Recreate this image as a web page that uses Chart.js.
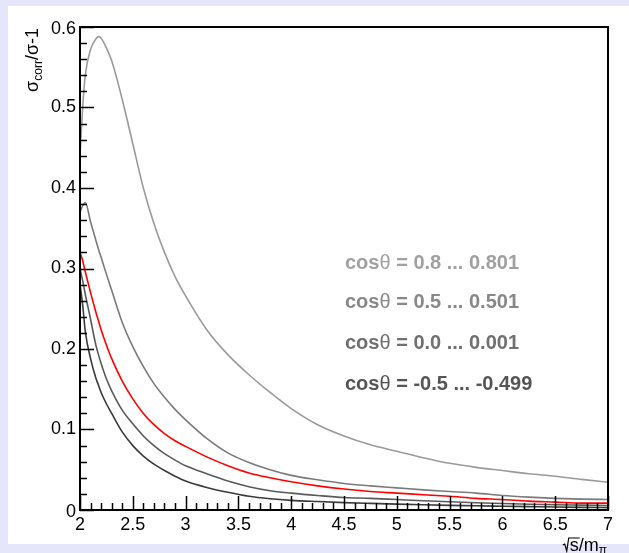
<!DOCTYPE html>
<html>
<head>
<meta charset="utf-8">
<script src="https://cdn.jsdelivr.net/npm/chart.js@4.4.1/dist/chart.umd.min.js"></script>
<style>
html,body{margin:0;padding:0;background:#e6e6fa;}
canvas{display:block;}
</style>
</head>
<body>
<canvas id="c" width="629" height="553"></canvas>
<script>
// sqrt(s)/m_pi sample positions
const xs = [2.0, 2.025, 2.05, 2.1, 2.15, 2.175, 2.2, 2.25, 2.3, 2.4, 2.5, 2.6, 2.7, 2.8, 2.9, 3.0, 3.2, 3.4, 3.6, 3.8, 4.0, 4.25, 4.5, 4.75, 5.0, 5.25, 5.5, 5.75, 6.0, 6.25, 6.5, 6.75, 7.0];
// sigma_corr/sigma - 1 for each curve
const cos08 = [0.44, 0.50, 0.54, 0.572, 0.585, 0.588, 0.586, 0.574, 0.558, 0.510, 0.455, 0.400, 0.356, 0.320, 0.290, 0.266, 0.224, 0.193, 0.168, 0.146, 0.126, 0.106, 0.092, 0.081, 0.073, 0.065, 0.058, 0.053, 0.049, 0.045, 0.042, 0.038, 0.0345];
const cos05 = [0.37, 0.378, 0.382, 0.358, 0.335, 0.324, 0.314, 0.293, 0.273, 0.233, 0.203, 0.178, 0.157, 0.140, 0.125, 0.112, 0.089, 0.071, 0.059, 0.050, 0.043, 0.0375, 0.033, 0.030, 0.0275, 0.025, 0.023, 0.021, 0.018, 0.016, 0.0145, 0.0135, 0.013];
const redCurve = [0.32, 0.31, 0.296, 0.270, 0.246, 0.235, 0.224, 0.205, 0.188, 0.160, 0.138, 0.120, 0.106, 0.095, 0.086, 0.079, 0.066, 0.055, 0.046, 0.040, 0.035, 0.030, 0.026, 0.023, 0.021, 0.019, 0.017, 0.0145, 0.013, 0.011, 0.0098, 0.0085, 0.0085];
const cos00 = [0.30, 0.285, 0.268, 0.237, 0.205, 0.193, 0.182, 0.163, 0.148, 0.124, 0.107, 0.092, 0.080, 0.070, 0.062, 0.055, 0.045, 0.036, 0.029, 0.024, 0.021, 0.018, 0.0155, 0.0145, 0.013, 0.0115, 0.0102, 0.009, 0.008, 0.0072, 0.0065, 0.006, 0.0055];
const cosm05 = [0.28, 0.255, 0.222, 0.188, 0.164, 0.155, 0.146, 0.132, 0.120, 0.097, 0.080, 0.067, 0.057, 0.049, 0.042, 0.036, 0.028, 0.022, 0.017, 0.014, 0.012, 0.0105, 0.0092, 0.0082, 0.0073, 0.0065, 0.0058, 0.0052, 0.0047, 0.0042, 0.0037, 0.0033, 0.003];

const legendLabels = ["0.8 ... 0.801", "0.5 ... 0.501", "0.0 ... 0.001", "-0.5 ... -0.499"];
const yTickLabels = ["0", "0.1", "0.2", "0.3", "0.4", "0.5", "0.6"];
const xTickLabels = ["2", "2.5", "3", "3.5", "4", "4.5", "5", "5.5", "6", "6.5", "7"];

function pts(arr){ return xs.map((x,i)=>({x:x, y:arr[i]})); }

const FONT = '"Liberation Sans", Arial, Helvetica, sans-serif';

const rootStyle = {
  id: 'rootStyle',
  beforeDraw(chart){
    const ctx = chart.ctx;
    ctx.save();
    ctx.fillStyle = '#e6e6fa';
    ctx.fillRect(0,0,chart.width,chart.height);
    ctx.fillStyle = '#ffffff';
    ctx.fillRect(8,6,chart.width-8,538);
    ctx.restore();
  },
  afterDraw(chart){
    const ctx = chart.ctx;
    const a = chart.chartArea;
    const xs_ = chart.scales.x, ys_ = chart.scales.y;
    ctx.save();
    ctx.strokeStyle = '#000';
    ctx.lineWidth = 2;
    ctx.strokeRect(a.left, a.top, a.right-a.left, a.bottom-a.top);
    ctx.lineWidth = 1.5;
    for (let i=0;i<=30;i++){
      const v = i*0.02;
      const y = Math.round(ys_.getPixelForValue(v))+0.5;
      const len = (i%5===0)?14:7;
      ctx.beginPath(); ctx.moveTo(a.left, y); ctx.lineTo(a.left+len, y); ctx.stroke();
    }
    for (let i=0;i<=50;i++){
      const v = 2 + i*0.1;
      const x = Math.round(xs_.getPixelForValue(v))+0.5;
      const len = (i%5===0)?14:7;
      ctx.beginPath(); ctx.moveTo(x, a.bottom); ctx.lineTo(x, a.bottom-len); ctx.stroke();
    }
    ctx.fillStyle = '#000';
    ctx.font = '18px ' + FONT;
    ctx.textAlign = 'right'; ctx.textBaseline = 'middle';
    yTickLabels.forEach((t,i)=>{
      const y = ys_.getPixelForValue(i*0.1);
      ctx.fillText(t, 76, (i===0 || i===6) ? y+2 : y);
    });
    ctx.textAlign = 'center'; ctx.textBaseline = 'top';
    xTickLabels.forEach((t,i)=>{
      const x = xs_.getPixelForValue(2 + i*0.5);
      ctx.fillText(t, x, 516);
    });
    // y title
    ctx.save();
    ctx.translate(39, 28);
    ctx.rotate(-Math.PI/2);
    ctx.textBaseline = 'alphabetic'; ctx.textAlign = 'left';
    const big = '18px ' + FONT, small = '12px ' + FONT;
    ctx.font = big; const w1 = ctx.measureText('σ').width;
    ctx.font = small; const w2 = ctx.measureText('corr').width;
    ctx.font = big; const w3 = ctx.measureText('/σ-1').width;
    let x0 = -(w1+w2+w3);
    ctx.font = big; ctx.fillText('σ', x0, -1);
    ctx.font = small; ctx.fillText('corr', x0+w1, 3);
    ctx.font = big; ctx.fillText('/σ-1', x0+w1+w2, -1);
    ctx.restore();
    // x title
    ctx.textBaseline = 'alphabetic'; ctx.textAlign = 'left';
    ctx.font = big; const ws = ctx.measureText('s').width; const wm = ctx.measureText('/m').width;
    ctx.font = small; const wp = ctx.measureText('π').width;
    const xr = 607; const xb = 551;
    let xs0 = xr - wp - wm - ws;
    ctx.font = big; ctx.fillText('s', xs0, xb); ctx.fillText('/m', xs0+ws, xb);
    ctx.font = small; ctx.fillText('π', xs0+ws+wm, xb+3);
    ctx.lineWidth = 1.2;
    ctx.beginPath();
    ctx.moveTo(xs0-7, xb-6); ctx.lineTo(xs0-5, xb-7); ctx.lineTo(xs0-3, xb); ctx.lineTo(xs0-1, xb-13); ctx.lineTo(xs0+ws+1, xb-13);
    ctx.stroke();
    // legend text
    const cols = ['#a0a0a0', '#888888', '#707070', '#555555'];
    const ly = [263, 302.5, 343.5, 384];
    legendLabels.forEach((t,i)=>{
      ctx.fillStyle = cols[i];
      ctx.textBaseline = 'middle';
      let x = 345;
      ctx.font = 'bold 20px ' + FONT; ctx.fillText('cos', x, ly[i]); x += ctx.measureText('cos').width;
      ctx.font = '20px ' + FONT; ctx.fillText('θ', x, ly[i]); x += ctx.measureText('θ').width;
      ctx.font = 'bold 20px ' + FONT; ctx.fillText(' = ' + t, x, ly[i]);
    });
    ctx.restore();
  }
};

const ds = (arr, col) => ({data: pts(arr), borderColor: col, borderWidth: 1.6, pointRadius: 0, showLine: true, fill: false, cubicInterpolationMode: 'monotone'});

new Chart(document.getElementById('c'), {
  type: 'scatter',
  data: { datasets: [ ds(cos08,'#9a9a9a'), ds(cos05,'#7a7a7a'), ds(redCurve,'#ff0000'), ds(cos00,'#5a5a5a'), ds(cosm05,'#3a3a3a') ] },
  options: {
    responsive: false, animation: false, devicePixelRatio: 1,
    layout: { padding: { left: 80, top: 27, right: 21, bottom: 43 } },
    plugins: { legend: {display:false}, tooltip: {enabled:false} },
    scales: {
      x: { type:'linear', min: 2, max: 7, display: false },
      y: { type:'linear', min: 0, max: 0.6, display: false }
    }
  },
  plugins: [rootStyle]
});
</script>
</body>
</html>
